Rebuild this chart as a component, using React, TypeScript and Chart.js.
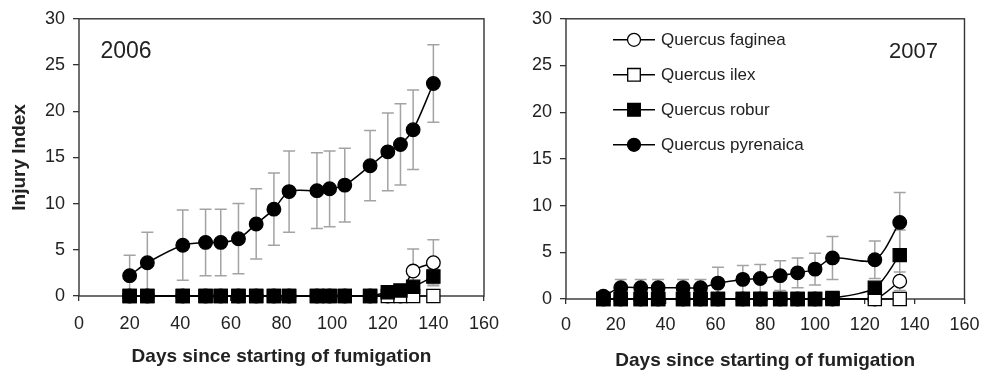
import React, { useEffect, useRef } from 'react';
import { Chart, registerables } from 'chart.js';

Chart.register(...registerables);

// ---------- data ----------
const speciesNames = ['Quercus faginea', 'Quercus ilex', 'Quercus robur', 'Quercus pyrenaica'];

const days2006 = [20, 27, 41, 50, 56, 63, 70, 77, 83, 94, 99, 105, 115, 122, 127, 132, 140];
const faginea2006 = [0, 0, 0, 0, 0, 0, 0, 0, 0, 0, 0, 0, 0, 0, 0, 2.7, 3.6];
const fagineaErr2006 = [0, 0, 0, 0, 0, 0, 0, 0, 0, 0, 0, 0, 0, 0, 0, 2.4, 2.5];
const ilex2006 = [0, 0, 0, 0, 0, 0, 0, 0, 0, 0, 0, 0, 0, 0, 0, 0, 0];
const ilexErr2006 = [0, 0, 0, 0, 0, 0, 0, 0, 0, 0, 0, 0, 0, 0, 0, 0, 0];
const robur2006 = [0, 0, 0, 0, 0, 0, 0, 0, 0, 0, 0, 0, 0, 0.4, 0.6, 1.0, 2.1];
const roburErr2006 = [0, 0, 0, 0, 0, 0, 0, 0, 0, 0, 0, 0, 0, 0, 0, 0, 0.8];
const pyrenaica2006 = [2.2, 3.6, 5.5, 5.8, 5.8, 6.2, 7.8, 9.4, 11.3, 11.4, 11.6, 12.0, 14.1, 15.6, 16.4, 18.0, 23.0];
const pyrenaicaErr2006 = [2.2, 3.3, 3.8, 3.6, 3.6, 3.8, 3.8, 3.9, 4.4, 4.1, 4.1, 4.0, 3.8, 4.2, 4.4, 4.3, 4.2];

const days2007 = [15, 22, 30, 37, 47, 54, 61, 71, 78, 86, 93, 100, 107, 124, 134];
const faginea2007 = [0, 0, 0, 0, 0, 0, 0, 0, 0, 0, 0, 0, 0, 0, 1.9];
const fagineaErr2007 = [0, 0, 0, 0, 0, 0, 0, 0, 0, 0, 0, 0, 0, 0, 1.0];
const ilex2007 = [0, 0, 0, 0, 0, 0, 0, 0, 0, 0, 0, 0, 0, 0, 0];
const ilexErr2007 = [0, 0, 0, 0, 0, 0, 0, 0, 0, 0, 0, 0, 0, 0, 0];
const robur2007 = [0, 0, 0, 0, 0, 0, 0, 0, 0, 0, 0, 0, 0.1, 1.2, 4.7];
const roburErr2007 = [0, 0, 0, 0, 0, 0, 0, 0, 0, 0, 0, 0, 0, 0, 2.7];
const pyrenaica2007 = [0.3, 1.2, 1.2, 1.2, 1.2, 1.2, 1.7, 2.1, 2.2, 2.5, 2.8, 3.2, 4.4, 4.2, 8.2];
const pyrenaicaErr2007 = [0, 0.9, 0.9, 0.9, 0.9, 0.9, 1.7, 1.5, 1.5, 1.6, 1.6, 1.7, 2.3, 2.0, 3.2];

const xTickMin = 0;
const xTickMax = 160;
const xTickStep = 20;
const yTickMin = 0;
const yTickMax = 30;
const yTickStep = 5;

const yAxisTitle = 'Injury Index';
const xAxisTitle = 'Days since starting of fumigation';

// ---------- styles ----------
const FONT = '"Liberation Sans", Arial, Helvetica, sans-serif';
const TEXT = '#222222';
const AXIS = '#333333';
const ERR = '#a3a3a3';

const speciesStyles = [
  { shape: 'circle', fill: '#ffffff', radius: 6.8, order: 4 },
  { shape: 'rect', fill: '#ffffff', radius: 9.3, order: 3 },
  { shape: 'rect', fill: '#000000', radius: 9.3, order: 2 },
  { shape: 'circle', fill: '#000000', radius: 6.8, order: 1 },
];

const framePlugin = {
  id: 'frameBox',
  beforeDatasetsDraw(chart: any) {
    const { ctx, chartArea } = chart;
    ctx.save();
    ctx.strokeStyle = AXIS;
    ctx.lineWidth = 1.4;
    ctx.strokeRect(chartArea.left, chartArea.top, chartArea.right - chartArea.left, chartArea.bottom - chartArea.top);
    ctx.restore();
  },
};

const errorBarPlugin = {
  id: 'errorBars',
  beforeDatasetsDraw(chart: any) {
    const { ctx } = chart;
    const xs = chart.scales.x;
    const ys = chart.scales.y;
    ctx.save();
    ctx.strokeStyle = ERR;
    ctx.lineWidth = 1.5;
    chart.data.datasets.forEach((ds: any) => {
      const errs: number[] = ds.errors || [];
      ds.data.forEach((pt: any, i: number) => {
        const e = errs[i];
        if (!e) return;
        const px = xs.getPixelForValue(pt.x);
        const top = ys.getPixelForValue(pt.y + e);
        const bot = ys.getPixelForValue(Math.max(pt.y - e, 0));
        ctx.beginPath();
        ctx.moveTo(px, top);
        ctx.lineTo(px, bot);
        ctx.moveTo(px - 6, top);
        ctx.lineTo(px + 6, top);
        ctx.moveTo(px - 6, bot);
        ctx.lineTo(px + 6, bot);
        ctx.stroke();
      });
    });
    ctx.restore();
  },
};

const labelPlugin = {
  id: 'yearLabel',
  afterDraw(chart: any, _args: any, opts: any) {
    if (!opts || !opts.text) return;
    const { ctx, chartArea } = chart;
    ctx.save();
    ctx.fillStyle = TEXT;
    ctx.font = `${opts.size}px ${FONT}`;
    ctx.textAlign = 'center';
    ctx.textBaseline = 'middle';
    const x = opts.fromRight ? chartArea.right - opts.dx : chartArea.left + opts.dx;
    ctx.fillText(opts.text, x, chartArea.top + opts.dy);
    ctx.restore();
  },
};

function drawMarker(ctx: CanvasRenderingContext2D, shape: string, fill: string, x: number, y: number) {
  ctx.beginPath();
  if (shape === 'circle') {
    ctx.arc(x, y, 6.5, 0, Math.PI * 2);
  } else {
    ctx.rect(x - 6.3, y - 6.3, 12.6, 12.6);
  }
  ctx.fillStyle = fill;
  ctx.fill();
  ctx.strokeStyle = '#000';
  ctx.lineWidth = 1.3;
  ctx.stroke();
}

const legendPlugin = {
  id: 'lineLegend',
  afterDraw(chart: any, _args: any, opts: any) {
    if (!opts || !opts.show) return;
    const { ctx, chartArea } = chart;
    ctx.save();
    const x0 = chartArea.left + opts.dx;
    chart.data.datasets.forEach((ds: any, i: number) => {
      const y = chartArea.top + opts.dy + i * opts.spacing;
      ctx.beginPath();
      ctx.strokeStyle = '#000';
      ctx.lineWidth = 1.5;
      ctx.moveTo(x0, y);
      ctx.lineTo(x0 + 42, y);
      ctx.stroke();
      const st = speciesStyles[i];
      drawMarker(ctx, st.shape, st.fill, x0 + 21, y);
      ctx.fillStyle = TEXT;
      ctx.font = `17px ${FONT}`;
      ctx.textAlign = 'left';
      ctx.textBaseline = 'middle';
      ctx.fillText(ds.label, x0 + 48, y + 0.5);
    });
    ctx.restore();
  },
};

type PanelProps = {
  left: number;
  width: number;
  days: number[];
  values: number[][];
  errors: number[][];
  yWidth: number;
  xHeight: number;
  padTop: number;
  padRight: number;
  showYTitle: boolean;
  xTickPad: number;
  xTitlePad: number;
  year: any;
  legend: any;
};

function Panel(p: PanelProps) {
  const ref = useRef<HTMLCanvasElement | null>(null);
  useEffect(() => {
    if (!ref.current) return;
    const datasets = speciesNames.map((name, si) => ({
      label: name,
      data: p.days.map((d, i) => ({ x: d, y: p.values[si][i] })),
      errors: p.errors[si],
      borderColor: '#000000',
      borderWidth: 1.5,
      backgroundColor: speciesStyles[si].fill,
      pointBackgroundColor: speciesStyles[si].fill,
      pointBorderColor: '#000000',
      pointBorderWidth: 1.3,
      pointStyle: speciesStyles[si].shape,
      pointRadius: speciesStyles[si].radius,
      tension: 0.3,
      order: speciesStyles[si].order,
      clip: false as any,
    }));
    const chart = new Chart(ref.current, {
      type: 'line',
      data: { datasets } as any,
      plugins: [framePlugin, errorBarPlugin, labelPlugin, legendPlugin],
      options: {
        animation: false,
        responsive: false,
        events: [],
        layout: { padding: { left: 0, right: p.padRight, top: p.padTop, bottom: 0 } },
        plugins: {
          legend: { display: false },
          tooltip: { enabled: false },
          yearLabel: p.year,
          lineLegend: p.legend,
        } as any,
        scales: {
          x: {
            type: 'linear',
            min: xTickMin,
            max: xTickMax,
            afterFit: (s: any) => { s.height = p.xHeight; },
            ticks: { stepSize: xTickStep, color: TEXT, font: { size: 18, family: FONT }, padding: p.xTickPad, maxRotation: 0 },
            grid: { drawOnChartArea: false, drawTicks: true, tickLength: 5, color: AXIS, lineWidth: 1.3 },
            border: { display: false },
            title: { display: true, text: xAxisTitle, color: TEXT, font: { size: 19, weight: 'bold', family: FONT }, padding: { top: 0, bottom: p.xTitlePad } },
          },
          y: {
            type: 'linear',
            min: yTickMin,
            max: yTickMax,
            afterFit: (s: any) => { s.width = p.yWidth; },
            ticks: { stepSize: yTickStep, color: TEXT, font: { size: 18, family: FONT }, padding: 8 },
            grid: { drawOnChartArea: false, drawTicks: true, tickLength: 6, color: AXIS, lineWidth: 1.3 },
            border: { display: false },
            title: { display: p.showYTitle, text: yAxisTitle, color: TEXT, font: { size: 19, weight: 'bold', family: FONT }, padding: { top: 8, bottom: 0 } },
          },
        },
      } as any,
    });
    return () => chart.destroy();
  }, []);
  return (
    <canvas
      ref={ref}
      width={p.width}
      height={376}
      style={{ position: 'absolute', left: p.left, top: 0, width: p.width, height: 376 }}
    />
  );
}

export default function App() {
  return (
    <div style={{ position: 'absolute', left: 0, top: 0, width: 990, height: 376, background: '#fff', overflow: 'hidden' }}>
      <Panel
        left={0}
        width={515}
        days={days2006}
        values={[faginea2006, ilex2006, robur2006, pyrenaica2006]}
        errors={[fagineaErr2006, ilexErr2006, roburErr2006, pyrenaicaErr2006]}
        yWidth={79}
        xHeight={80}
        padTop={14.5}
        padRight={31}
        showYTitle={true}
        xTickPad={12}
        xTitlePad={8}
        year={{ text: '2006', size: 23, dx: 47, dy: 33, fromRight: false }}
        legend={{ show: false }}
      />
      <Panel
        left={515}
        width={475}
        days={days2007}
        values={[faginea2007, ilex2007, robur2007, pyrenaica2007]}
        errors={[fagineaErr2007, ilexErr2007, roburErr2007, pyrenaicaErr2007]}
        yWidth={51}
        xHeight={77}
        padTop={15}
        padRight={19}
        showYTitle={false}
        xTickPad={10.5}
        xTitlePad={4}
        year={{ text: '2007', size: 22, dx: 51, dy: 33, fromRight: true }}
        legend={{ show: true, dx: 47, dy: 21, spacing: 35 }}
      />
    </div>
  );
}
